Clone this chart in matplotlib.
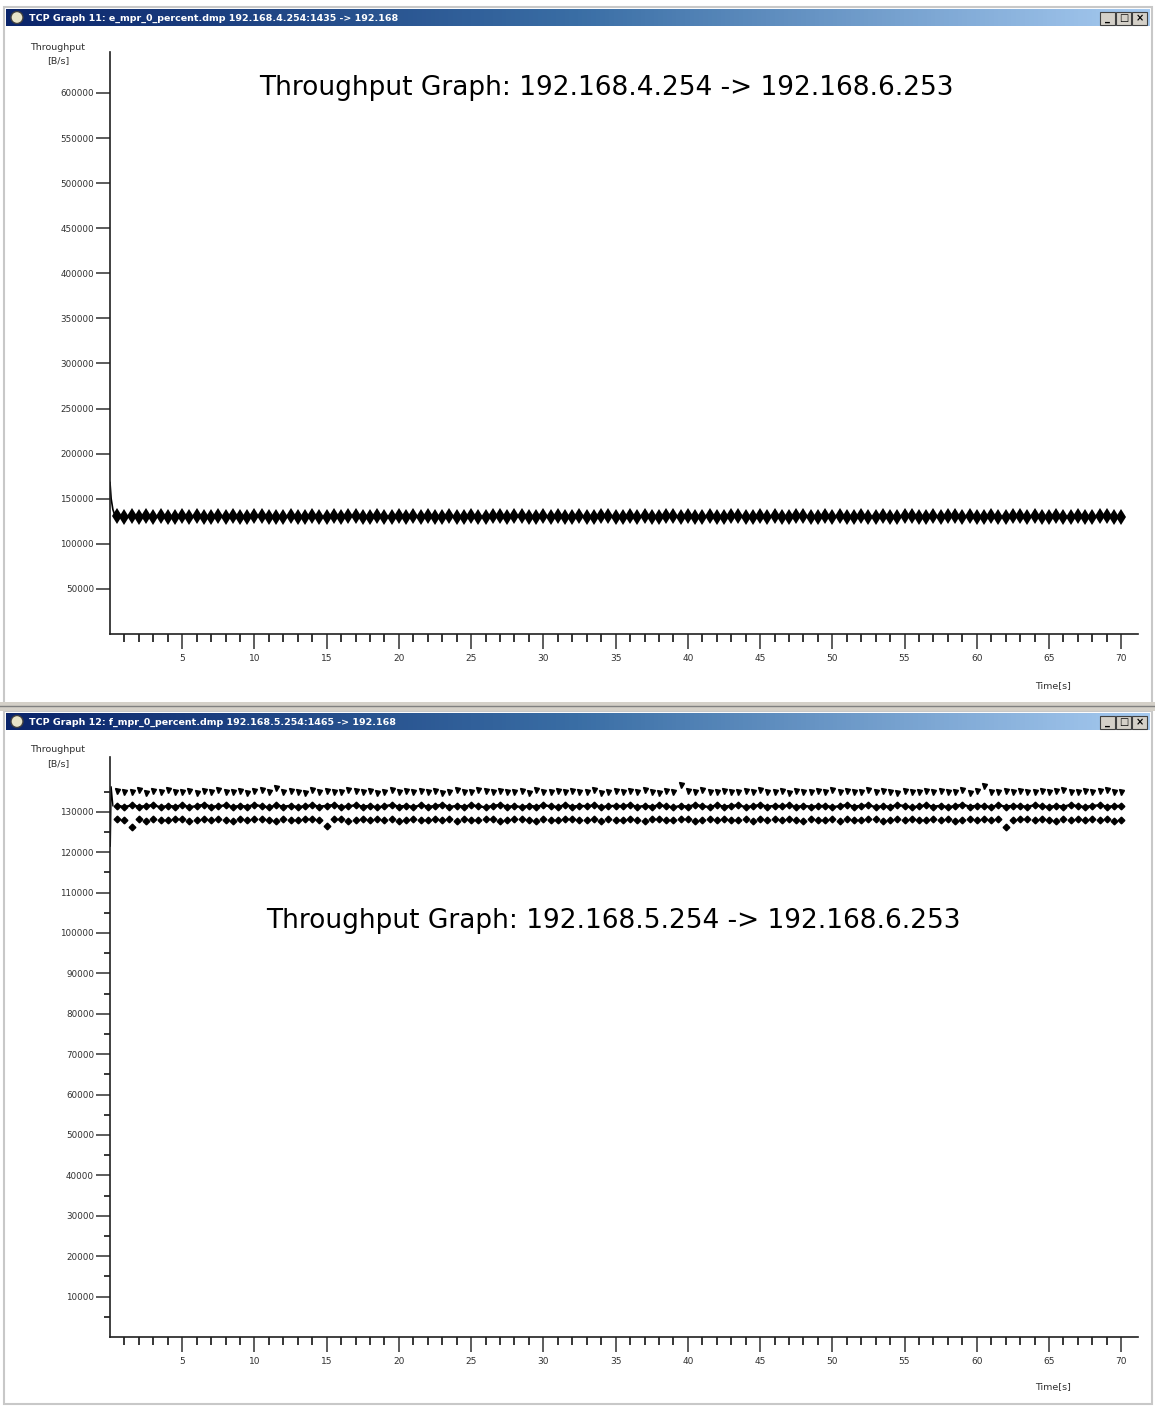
import numpy as np
import matplotlib
matplotlib.use("Agg")
import matplotlib.pyplot as plt
from matplotlib.patches import Rectangle, Circle
from matplotlib.ticker import MultipleLocator, FixedLocator

# ---- data (B/s in thousands), one sample every 0.5 s ----
t = np.arange(0.5, 70.01, 0.5)

top_start_t = [0.0, 0.08, 0.2, 0.35]
top_start_k = [168.0, 150.0, 138.0, 131.0]
top_k = [
    131.0, 129.4, 130.6, 129.8, 130.3, 129.6, 130.9, 130.1, 129.5, 130.7, 129.9, 130.4, 129.7, 130.2,
    130.8, 129.5, 130.3, 130.0, 129.6, 130.5, 130.9, 129.8, 130.2, 129.4, 130.6, 130.1, 129.7, 130.4,
    130.0, 129.6, 130.7, 129.9, 130.3, 130.8, 129.5, 130.2, 130.6, 129.8, 130.1, 130.9, 129.6, 130.4,
    129.7, 130.5, 130.1, 129.5, 130.8, 130.0, 129.9, 130.6, 130.2, 129.6, 130.4, 130.7, 129.8, 130.3,
    130.6, 129.7, 130.2, 130.9, 129.5, 130.4, 130.0, 129.8, 130.7, 130.1, 129.6, 130.5, 130.3, 129.9,
    130.2, 130.8, 129.6, 130.4, 130.0, 129.7, 130.6, 130.3, 129.5, 130.9, 130.1, 129.8, 130.5, 130.2,
    129.9, 130.4, 130.7, 129.6, 130.1, 130.5, 129.8, 130.8, 130.0, 129.7, 130.3, 130.6, 129.5, 130.2,
    130.7, 129.8, 130.3, 130.0, 129.6, 130.9, 130.2, 129.9, 130.5, 130.1, 129.7, 130.4, 130.8, 129.6,
    130.1, 130.6, 129.8, 130.3, 130.7, 129.5, 130.4, 130.0, 129.9, 130.6, 130.2, 129.7, 130.5, 130.3,
    129.8, 130.5, 130.1, 129.6, 130.8, 130.2, 129.9, 130.4, 130.0, 129.7, 130.6, 130.3, 129.8, 130.1,
]

bot_start_t = [0.02, 0.08, 0.2]
bot_start_k = [121.5, 136.2, 131.5]
bot_upper_k = [
    135.2, 134.8, 135.0, 135.3, 134.7, 135.1, 134.9, 135.4, 134.8, 135.0, 135.2, 134.6, 135.1, 134.9,
    135.3, 134.8, 135.0, 135.2, 134.7, 135.1, 135.4, 134.9, 136.0, 134.8, 135.2, 135.0, 134.7, 135.3,
    134.9, 135.1, 135.0, 134.8, 135.3, 135.1, 134.9, 135.2, 134.7, 135.0, 135.4, 134.8, 135.1, 135.0,
    135.2, 134.9, 135.1, 134.7, 135.0, 135.3, 134.8, 135.0, 135.5, 135.1, 134.9, 135.2, 134.8, 135.0,
    135.1, 134.7, 135.3, 135.0, 134.9, 135.2, 134.8, 135.1, 135.0, 134.9, 135.3, 134.7, 135.0, 135.2,
    134.8, 135.1, 134.9, 135.3, 135.0, 134.7, 135.2, 135.0, 136.6, 135.1, 134.8, 135.3, 134.9, 135.0,
    135.2, 134.9, 135.0, 135.1, 134.8, 135.3, 134.9, 135.0, 135.2, 134.7, 135.1, 135.0, 134.8, 135.2,
    135.0, 135.3, 134.8, 135.1, 134.9, 135.0, 135.4, 134.8, 135.1, 135.0, 134.7, 135.2, 135.0, 134.9,
    135.1, 134.8, 135.2, 135.0, 134.9, 135.3, 134.7, 135.1, 136.5, 135.0, 134.8, 135.2, 134.9, 135.1,
    135.0, 134.9, 135.2, 134.8, 135.1, 135.3, 134.9, 135.0, 135.2, 134.8, 135.1, 135.4, 134.9, 135.0,
]
bot_mid_k = [
    131.5, 131.2, 131.6, 131.3, 131.4, 131.7, 131.1, 131.5, 131.3, 131.6, 131.2, 131.4, 131.8, 131.3,
    131.4, 131.6, 131.2, 131.5, 131.3, 131.7, 131.4, 131.1, 131.6, 131.3, 131.5, 131.2, 131.4, 131.6,
    131.3, 131.5, 131.7, 131.2, 131.4, 131.6, 131.3, 131.5, 131.1, 131.4, 131.7, 131.3, 131.5, 131.2,
    131.6, 131.3, 131.4, 131.8, 131.2, 131.5, 131.3, 131.6, 131.4, 131.1, 131.5, 131.7, 131.3, 131.4,
    131.2, 131.5, 131.3, 131.6, 131.4, 131.2, 131.7, 131.3, 131.5, 131.4, 131.6, 131.2, 131.4, 131.5,
    131.4, 131.7, 131.2, 131.5, 131.3, 131.6, 131.4, 131.1, 131.5, 131.3, 131.7, 131.4, 131.2, 131.6,
    131.3, 131.5, 131.6, 131.2, 131.4, 131.7, 131.3, 131.5, 131.4, 131.6, 131.2, 131.5, 131.3, 131.4,
    131.5, 131.2, 131.4, 131.7, 131.3, 131.5, 131.6, 131.2, 131.4, 131.3, 131.6, 131.5, 131.1, 131.4,
    131.6, 131.3, 131.5, 131.2, 131.4, 131.8, 131.3, 131.5, 131.4, 131.2, 131.6, 131.3, 131.5, 131.4,
    131.3, 131.6, 131.4, 131.2, 131.5, 131.3, 131.7, 131.4, 131.2, 131.5, 131.6, 131.3, 131.4, 131.5,
]
bot_lower_k = [
    128.2, 127.9, 126.3, 128.1, 127.8, 128.3, 128.0, 127.9, 128.2, 128.1, 127.8, 128.0, 128.3, 127.9,
    128.1, 128.0, 127.8, 128.2, 127.9, 128.1, 128.3, 128.0, 127.8, 128.2, 128.0, 127.9, 128.1, 128.2,
    127.9, 126.5, 128.2, 128.1, 127.8, 128.0, 128.3, 127.9, 128.1, 128.0, 128.2, 127.8, 128.0, 128.1,
    128.0, 127.9, 128.2, 128.0, 128.1, 127.8, 128.3, 128.0, 127.9, 128.2, 128.1, 127.8, 128.0, 128.2,
    128.1, 128.0, 127.8, 128.2, 128.0, 127.9, 128.1, 128.3, 127.9, 128.0, 128.2, 127.8, 128.1, 128.0,
    127.9, 128.2, 128.0, 127.8, 128.1, 128.3, 127.9, 128.0, 128.2, 128.1, 127.8, 128.0, 128.2, 127.9,
    128.2, 128.0, 127.9, 128.1, 127.8, 128.2, 128.0, 128.3, 127.9, 128.1, 128.0, 127.8, 128.2, 128.0,
    128.0, 128.1, 127.8, 128.2, 128.0, 127.9, 128.3, 128.1, 127.8, 128.0, 128.2, 127.9, 128.1, 128.0,
    127.9, 128.2, 128.0, 128.1, 127.8, 128.0, 128.2, 127.9, 128.1, 128.0, 128.3, 126.3, 128.0, 128.2,
    128.1, 127.9, 128.2, 128.0, 127.8, 128.1, 128.0, 128.3, 127.9, 128.2, 128.0, 128.1, 127.8, 128.0,
]

win_titles = ["TCP Graph 11: e_mpr_0_percent.dmp 192.168.4.254:1435 -> 192.168",
              "TCP Graph 12: f_mpr_0_percent.dmp 192.168.5.254:1465 -> 192.168"]
graph_titles = ["Throughput Graph: 192.168.4.254 -> 192.168.6.253",
                "Throughput Graph: 192.168.5.254 -> 192.168.6.253"]

W, H = 1155, 1406
fig = plt.figure(figsize=(W / 100, H / 100), dpi=100)
fig.patch.set_facecolor("white")

# background axis in pixel coords for the window chrome
bg = fig.add_axes([0, 0, 1, 1], zorder=-5)
bg.set_xlim(0, W)
bg.set_ylim(H, 0)
bg.axis("off")

grad = np.linspace(0, 1, 256).reshape(1, -1)
cmap = matplotlib.colors.LinearSegmentedColormap.from_list(
    "xp", ["#0a246a", "#3a6ea5", "#a6caf0"])


def chrome(y0, y1, title):
    # window outline and title bar
    bg.add_patch(Rectangle((4, y0 - 2), 1148, y1 - y0 + 2, fill=False,
                           ec="#c8c8c8", lw=1.5))
    bg.imshow(grad, cmap=cmap, extent=(6, 1150, y0 + 17, y0), aspect="auto")
    bg.add_patch(Circle((17, y0 + 8.5), 6, fc="#e8e4c8", ec="#404040", lw=1))
    bg.text(29, y0 + 9, title, color="white", fontsize=6.8, fontweight="bold",
            va="center", ha="left")
    for i, s in enumerate(["_", "□", "×"]):
        x = 1100 + i * 16
        bg.add_patch(Rectangle((x, y0 + 2.5), 15, 13, fc="#d4d0c8",
                               ec="#404040", lw=0.8))
        bg.text(x + 7.5, y0 + 9, s, fontsize=7, ha="center", va="center",
                color="black", fontweight="bold")


chrome(9, 704, win_titles[0])
chrome(713, 1404, win_titles[1])
bg.add_patch(Rectangle((0, 702), W, 9, fc="#d4d0c8", ec="none"))
bg.plot([0, W], [706, 706], color="#808080", lw=1)

xt = np.arange(5, 71, 5)
x_minor = [v for v in range(1, 71) if v % 5]


def px_axes(left, right, top, bottom):
    return fig.add_axes([left / W, 1 - bottom / H, (right - left) / W, (bottom - top) / H])


def style(ax, xtitle_y, ytitle_y):
    for s in ["top", "right"]:
        ax.spines[s].set_visible(False)
    for s in ["left", "bottom"]:
        ax.spines[s].set_linewidth(1.2)
        ax.spines[s].set_color("#202020")
    ax.set_facecolor("none")
    ax.set_xticks(xt)
    ax.set_xticklabels([str(v) for v in xt])
    ax.xaxis.set_minor_locator(FixedLocator(x_minor))
    ax.tick_params(axis="x", which="major", length=10.5, width=1.1, labelsize=6.5,
                   pad=4, colors="#303030")
    ax.tick_params(axis="x", which="minor", length=5.5, width=1.1)
    ax.tick_params(axis="y", which="major", length=10, width=1.1, labelsize=6.3,
                   pad=1.5, colors="#303030")
    ax.tick_params(axis="y", which="minor", length=4.5, width=1.1)
    bg.text(1053, xtitle_y, "Time[s]", fontsize=6.8, ha="center", va="center",
            color="#303030")
    bg.text(58, ytitle_y, "Throughput", fontsize=6.8, ha="center", va="center",
            color="#303030")
    bg.text(58, ytitle_y + 14, "[B/s]", fontsize=6.8, ha="center", va="center",
            color="#303030")


# ---- top graph ----
ax1 = px_axes(110, 1138, 52, 634)
ax1.set_xlim(0, (1138 - 110) / 14.446)
ax1.set_ylim(0, (634 - 52) / 45.09 * 50000)
ax1.set_yticks(np.arange(50000, 600001, 50000))
ax1.plot(top_start_t, np.array(top_start_k) * 1000, color="black", lw=1.2)
ax1.plot(t, np.array(top_k) * 1000, color="black", lw=1.5, marker="d", ms=8,
         mec="black", mfc="black", mew=0)
style(ax1, 686, 47)
ax1.text(0.483, 0.938, graph_titles[0], transform=ax1.transAxes, fontsize=19,
         ha="center", va="center", color="black")

# ---- bottom graph ----
ax2 = px_axes(110, 1138, 757, 1337)
ax2.set_xlim(0, (1138 - 110) / 14.446)
ax2.set_ylim(0, (1337 - 757) / 40.4 * 10000)
ax2.set_yticks(np.arange(10000, 130001, 10000))
ax2.yaxis.set_minor_locator(FixedLocator(np.arange(5000, 140001, 10000)))
ax2.plot(bot_start_t, np.array(bot_start_k) * 1000, color="black", lw=1.0)
ax2.plot(t, np.array(bot_upper_k) * 1000, ls="none", marker="v", ms=3.6,
         color="black")
ax2.plot(t, np.array(bot_mid_k) * 1000, color="black", lw=1.6, marker="D", ms=3.4)
ax2.plot(t, np.array(bot_lower_k) * 1000, ls="none", marker="D", ms=3.4,
         color="black")
style(ax2, 1387, 750)
ax2.text(0.49, 0.718, graph_titles[1], transform=ax2.transAxes, fontsize=19,
         ha="center", va="center", color="black")

fig.savefig("out.png", dpi=100)
